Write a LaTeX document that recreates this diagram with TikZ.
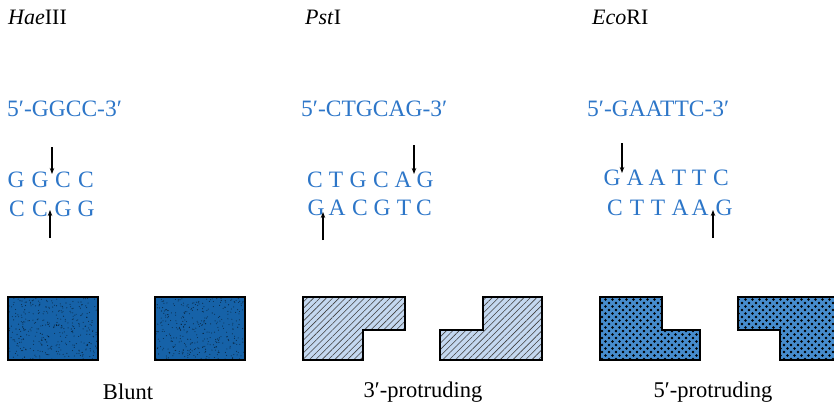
\documentclass[tikz,border=0pt]{standalone}
\usepackage{fontspec}
\setmainfont{Liberation Serif}
\usetikzlibrary{patterns,patterns.meta,arrows.meta}
\definecolor{seqblue}{RGB}{45,118,200}
\definecolor{bluntblue}{RGB}{22,98,168}
\definecolor{hatchblue}{RGB}{196,216,240}
\definecolor{dotblue}{RGB}{70,140,205}
\begin{document}
\begin{tikzpicture}[x=1pt,y=-1pt,
  title/.style={font=\fontsize{22}{25}\selectfont, anchor=west, inner sep=0},
  seq/.style={font=\fontsize{23.5}{27}\selectfont, text=seqblue, inner sep=0, anchor=west},
  nt/.style={font=\fontsize{23.5}{27}\selectfont, text=seqblue, inner sep=0},
  lbl/.style={font=\fontsize{22.5}{26}\selectfont, inner sep=0},
  cut/.style={-{Stealth[length=6pt,width=4.5pt]}, line width=1.1pt},
  outline/.style={draw=black, line width=2.6pt, line join=miter},
  hatched/.style={outline, preaction={fill=hatchblue}, pattern={Lines[angle=45,distance=4.5pt,line width=0.6pt]}, pattern color=black!75},
  dotted5/.style={outline, preaction={fill=dotblue}, pattern={Dots[distance=7pt,radius=1.3pt]}, pattern color=black,
     postaction={pattern={Dots[distance=7pt,radius=1.3pt,xshift=3.5pt,yshift=3.5pt]}, pattern color=black}},
]
\useasboundingbox (0,0) rectangle (834,408);
\clip (0,0) rectangle (834,408);

% titles
\node[title] (t1) at (8,17) {\textit{Hae}III};
\node[title] (t2) at (305,17) {\textit{Pst}I};
\node[title] (t3) at (592,17) {\textit{Eco}RI};

% recognition sequences
\node[seq] (s1) at (7,109) {5′-GGCC-3′};
\node[seq] (s2) at (301,109) {5′-CTGCAG-3′};
\node[seq] (s3) at (587,109) {5′-GAATTC-3′};

% HaeIII duplex
\node[nt] (h1) at (16,180) {G};
\node[nt] (h2) at (40,180) {G};
\node[nt] (h3) at (63,180) {C};
\node[nt] (h4) at (86,180) {C};
\node[nt] (h5) at (17,209) {C};
\node[nt] (h6) at (40,209) {C};
\node[nt] (h7) at (63,209) {G};
\node[nt] (h8) at (86,209) {G};

% PstI duplex
\node[nt] (p1) at (315,180) {C};
\node[nt] (p2) at (336,180) {T};
\node[nt] (p3) at (358,180) {G};
\node[nt] (p4) at (381,180) {C};
\node[nt] (p5) at (403,180) {A};
\node[nt] (p6) at (425,180) {G};
\node[nt] (q1) at (316,208) {G};
\node[nt] (q2) at (337,208) {A};
\node[nt] (q3) at (360,208) {C};
\node[nt] (q4) at (382,208) {G};
\node[nt] (q5) at (404,208) {T};
\node[nt] (q6) at (424,208) {C};

% EcoRI duplex
\node[nt] (e1) at (612,178) {G};
\node[nt] (e2) at (635,178) {A};
\node[nt] (e3) at (657,178) {A};
\node[nt] (e4) at (679,178) {T};
\node[nt] (e5) at (699,178) {T};
\node[nt] (e6) at (721,178) {C};
\node[nt] (f1) at (615,208) {C};
\node[nt] (f2) at (637,208) {T};
\node[nt] (f3) at (658,208) {T};
\node[nt] (f4) at (680,208) {A};
\node[nt] (f5) at (700,208) {A};
\node[nt] (f6) at (724,208) {G};

% cut arrows
\coordinate (ha0) at (52,147); \coordinate (ha1) at (52,174);
\coordinate (hb0) at (50,238); \coordinate (hb1) at (50,210);
\coordinate (pa0) at (414,145); \coordinate (pa1) at (414,174);
\coordinate (pb0) at (323,240); \coordinate (pb1) at (323,212);
\coordinate (ea0) at (622,143); \coordinate (ea1) at (622,173);
\coordinate (eb0) at (713,238); \coordinate (eb1) at (713,210);
\draw[cut] (ha0) -- (ha1);
\draw[cut] (hb0) -- (hb1);
\draw[cut] (pa0) -- (pa1);
\draw[cut] (pb0) -- (pb1);
\draw[cut] (ea0) -- (ea1);
\draw[cut] (eb0) -- (eb1);

% blunt fragments
\pgfmathsetseed{7}
\foreach \xa in {8,155} {
  \fill[bluntblue] (\xa,297) rectangle (\xa+90,360);
  \foreach \i in {1,...,350} {
    \fill[black,opacity=0.55] (\xa+1+88*rnd, 298+61*rnd) circle (0.55);
  }
  \draw[outline] (\xa,297) rectangle (\xa+90,360);
}

% 3'-protruding fragments
\path[hatched] (303,297) -- (405,297) -- (405,330) -- (363,330) -- (363,360) -- (303,360) -- cycle;
\path[hatched] (440,330) -- (483,330) -- (483,297) -- (542,297) -- (542,360) -- (440,360) -- cycle;

% 5'-protruding fragments
\path[dotted5] (600,297) -- (662,297) -- (662,330) -- (700,330) -- (700,360) -- (600,360) -- cycle;
\path[dotted5] (738,297) -- (850,297) -- (850,360) -- (780,360) -- (780,330) -- (738,330) -- cycle;

% labels
\node[lbl] (l1) at (128,392) {Blunt};
\node[lbl] (l2) at (423,392) {3′-protruding};
\node[lbl] (l3) at (713,392) {5′-protruding};
\end{tikzpicture}
\end{document}
